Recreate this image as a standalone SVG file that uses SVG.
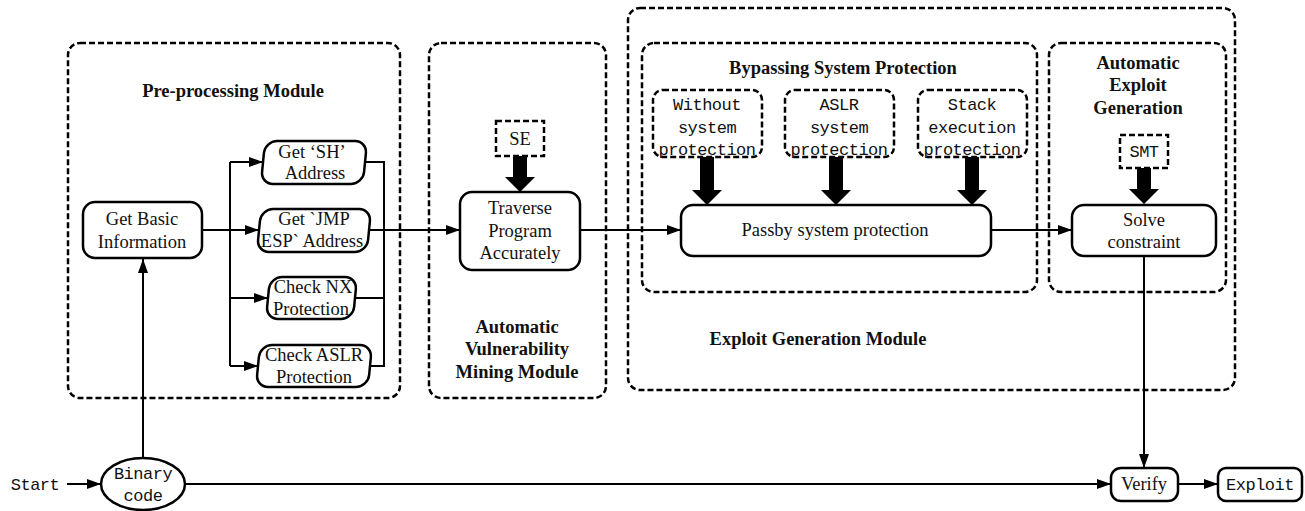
<svg xmlns="http://www.w3.org/2000/svg" width="1305" height="511" viewBox="0 0 1305 511">
<defs>
<style>
.dash{fill:none;stroke:#000;stroke-width:2.5;stroke-dasharray:6 3}
.node{fill:#fff;stroke:#000;stroke-width:2.5}
.ln{fill:none;stroke:#000;stroke-width:2}
.ar{fill:none;stroke:#000;stroke-width:2;marker-end:url(#ah)}
.thick{fill:#000}
.s{font-family:"Liberation Serif","Times New Roman",serif;font-size:18.5px;fill:#111;text-anchor:middle}
.b{font-family:"Liberation Serif","Times New Roman",serif;font-size:18.5px;font-weight:bold;fill:#111;text-anchor:middle}
.m{font-family:"Liberation Mono","Courier New",monospace;font-size:17px;letter-spacing:-0.5px;fill:#111;text-anchor:middle}
</style>
<marker id="ah" viewBox="0 0 14 10" refX="14" refY="5" markerWidth="14" markerHeight="10" markerUnits="userSpaceOnUse" orient="auto">
<path d="M0,0 L14,5 L0,10 Z" fill="#000"/>
</marker>
</defs>
<rect width="1305" height="511" fill="#fff"/>

<g id="modules">
<g id="preprocessing-module">
<rect class="dash" x="68" y="43" width="332" height="355" rx="12"/>
<text class="b" x="233" y="97">Pre-processing Module</text>
</g>
<g id="mining-module">
<rect class="dash" x="429" y="43" width="177" height="355" rx="12"/>
<text class="b" x="517" y="333">Automatic</text>
<text class="b" x="517" y="355">Vulnerability</text>
<text class="b" x="517" y="378">Mining Module</text>
</g>
<g id="exploit-generation-module">
<rect class="dash" x="628" y="8" width="607" height="382" rx="12"/>
<text class="b" x="818" y="345">Exploit Generation Module</text>
</g>
<g id="bypassing-module">
<rect class="dash" x="642" y="43" width="395" height="249" rx="12"/>
<text class="b" x="843" y="74">Bypassing System Protection</text>
</g>
<g id="aeg-module">
<rect class="dash" x="1049" y="43" width="177" height="249" rx="12"/>
<text class="b" x="1138" y="69">Automatic</text>
<text class="b" x="1138" y="91">Exploit</text>
<text class="b" x="1138" y="114">Generation</text>
</g>
</g>

<g id="connectors">
<line class="ar" x1="67" y1="484" x2="101" y2="484"/>
<line class="ar" x1="143" y1="457" x2="143" y2="259"/>
<line class="ar" x1="202" y1="230" x2="259" y2="230"/>
<polyline class="ln" points="230,230 230,162"/>
<polyline class="ln" points="230,230 230,366"/>
<line class="ar" x1="230" y1="162" x2="263" y2="162"/>
<line class="ar" x1="230" y1="298" x2="268" y2="298"/>
<line class="ar" x1="230" y1="366" x2="258" y2="366"/>
<polyline class="ln" points="365,162 384,162 384,366 370,366"/>
<line class="ln" x1="355" y1="298" x2="384" y2="298"/>
<line class="ar" x1="369" y1="230" x2="460" y2="230"/>
<line class="ar" x1="580" y1="230" x2="681" y2="230"/>
<line class="ar" x1="991" y1="230" x2="1072" y2="230"/>
<line class="ar" x1="1144" y1="256" x2="1144" y2="468"/>
<line class="ar" x1="184" y1="484" x2="1111" y2="484"/>
<line class="ar" x1="1178" y1="484" x2="1218" y2="484"/>
<polygon class="thick" points="513,156 527,156 527,177 535,177 520,192 505,177 513,177"/>
<polygon class="thick" points="700,157 714,157 714,190 722,190 707,205 692,190 700,190"/>
<polygon class="thick" points="829,157 843,157 843,190 851,190 836,205 821,190 829,190"/>
<polygon class="thick" points="965,157 979,157 979,190 987,190 972,205 957,190 965,190"/>
<polygon class="thick" points="1137,168 1151,168 1151,189 1159,189 1144,204 1129,189 1137,189"/>
</g>

<g id="start">
<text class="m" x="35" y="490">Start</text>
</g>
<g id="binary-code">
<ellipse class="node" cx="143" cy="484" rx="42" ry="26"/>
<text class="m" x="143" y="479">Binary</text>
<text class="m" x="143" y="501">code</text>
</g>
<g id="get-basic-information">
<rect class="node" x="83" y="202" width="119" height="56" rx="12"/>
<text class="s" x="142" y="225">Get Basic</text>
<text class="s" x="142" y="248">Information</text>
</g>
<g id="get-sh-address">
<rect class="node" x="263" y="141" width="102" height="43" rx="12" transform="translate(314 162.5) skewX(-5.5) translate(-314 -162.5)"/>
<text class="s" x="312" y="158">Get ‘SH’</text>
<text class="s" x="315" y="179">Address</text>
</g>
<g id="get-jmp-esp-address">
<rect class="node" x="259" y="209" width="110" height="43" rx="12" transform="translate(314 230.5) skewX(-5.5) translate(-314 -230.5)"/>
<text class="s" x="314" y="225">Get `JMP</text>
<text class="s" x="312" y="247">ESP` Address</text>
</g>
<g id="check-nx-protection">
<rect class="node" x="268" y="277" width="87" height="42" rx="12" transform="translate(311.5 298) skewX(-5.5) translate(-311.5 -298)"/>
<text class="s" x="313" y="293">Check NX</text>
<text class="s" x="311" y="315">Protection</text>
</g>
<g id="check-aslr-protection">
<rect class="node" x="258" y="345" width="112" height="42" rx="12" transform="translate(314 366) skewX(-5.5) translate(-314 -366)"/>
<text class="s" x="314" y="361">Check ASLR</text>
<text class="s" x="314" y="383">Protection</text>
</g>
<g id="se">
<rect class="dash" x="496" y="121" width="48" height="35"/>
<text class="s" x="520" y="145">SE</text>
</g>
<g id="traverse-program">
<rect class="node" x="460" y="192" width="120" height="78" rx="12"/>
<text class="s" x="520" y="214">Traverse</text>
<text class="s" x="520" y="237">Program</text>
<text class="s" x="520" y="259">Accurately</text>
</g>
<g id="without-protection">
<rect class="dash" x="653" y="90" width="109" height="67" rx="10"/>
<text class="m" x="707" y="110">Without</text>
<text class="m" x="707" y="133">system</text>
<text class="m" x="707" y="155">protection</text>
</g>
<g id="aslr-protection">
<rect class="dash" x="785" y="90" width="109" height="67" rx="10"/>
<text class="m" x="839" y="110">ASLR</text>
<text class="m" x="839" y="133">system</text>
<text class="m" x="839" y="155">protection</text>
</g>
<g id="stack-protection">
<rect class="dash" x="918" y="90" width="109" height="67" rx="10"/>
<text class="m" x="972" y="110">Stack</text>
<text class="m" x="972" y="133">execution</text>
<text class="m" x="972" y="155">protection</text>
</g>
<g id="passby">
<rect class="node" x="681" y="205" width="310" height="51" rx="12"/>
<text class="s" x="835" y="236">Passby system protection</text>
</g>
<g id="smt">
<rect class="dash" x="1120" y="135" width="48" height="33"/>
<text class="m" x="1144" y="157">SMT</text>
</g>
<g id="solve-constraint">
<rect class="node" x="1072" y="205" width="144" height="51" rx="12"/>
<text class="s" x="1144" y="226">Solve</text>
<text class="s" x="1144" y="248">constraint</text>
</g>
<g id="verify">
<rect class="node" x="1111" y="468" width="67" height="33" rx="10"/>
<text class="s" x="1144" y="490">Verify</text>
</g>
<g id="exploit">
<rect class="node" x="1218" y="468" width="84" height="33" rx="8"/>
<text class="m" x="1260" y="490">Exploit</text>
</g>
</svg>
